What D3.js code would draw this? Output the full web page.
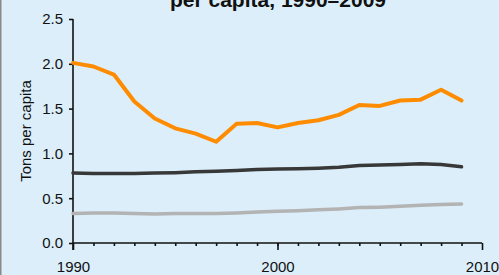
<!DOCTYPE html>
<html>
<head>
<meta charset="utf-8">
<script src="https://cdn.jsdelivr.net/npm/d3@7"></script>
<style>
  body { margin: 0; background: #dbeef9; }
  svg { display: block; }
</style>
</head>
<body>
<div class="chart"></div>
<script>
// data
var years = d3.range(1990, 2010);
var seriesOrange = [2.01, 1.97, 1.88, 1.58, 1.39, 1.28, 1.22, 1.13, 1.33, 1.34,
                    1.29, 1.34, 1.37, 1.43, 1.54, 1.53, 1.59, 1.60, 1.71, 1.59];
var seriesDark = [0.78, 0.775, 0.775, 0.775, 0.78, 0.785, 0.795, 0.80, 0.81, 0.82,
                  0.825, 0.83, 0.835, 0.845, 0.865, 0.87, 0.875, 0.885, 0.875, 0.85];
var seriesGray = [0.33, 0.335, 0.335, 0.33, 0.325, 0.33, 0.33, 0.33, 0.335, 0.345,
                  0.355, 0.36, 0.37, 0.38, 0.395, 0.40, 0.41, 0.42, 0.43, 0.435];
var yTicks = [0, 0.5, 1, 1.5, 2, 2.5];
var xTicks = [1990, 2000, 2010];
var titleText = "per capita, 1990\u20132009";
var yTitle = "Tons per capita";

var width = 499, height = 275;
var plotLeft = 73, plotRight = 482, plotTop = 19, plotBottom = 243;
var font = "'Liberation Sans', Arial, sans-serif";

var svg = d3.select(".chart").append("svg")
    .attr("width", width)
    .attr("height", height);

svg.append("rect")
    .attr("width", width).attr("height", height)
    .attr("fill", "#dbeef9");

// left frame edge
svg.append("line")
    .attr("x1", 0.5).attr("x2", 0.5)
    .attr("y1", 0).attr("y2", height)
    .attr("stroke", "#8a8a8a").attr("stroke-width", 2);

var x = d3.scaleLinear().domain([1990, 2010]).range([plotLeft, plotRight]);
var y = d3.scaleLinear().domain([0, 2.5]).range([plotBottom, plotTop]);

// title (its upper part is cut off in the original)
svg.append("text")
    .attr("x", 278).attr("y", 6.5)
    .attr("text-anchor", "middle")
    .attr("font-family", font)
    .attr("font-weight", "bold")
    .attr("font-size", "21px")
    .attr("fill", "#111")
    .text(titleText);

// y axis
var yAxis = svg.append("g")
    .attr("transform", "translate(" + plotLeft + ",0)")
    .call(d3.axisLeft(y).tickValues(yTicks).tickFormat(d3.format(".1f")).tickSize(4).tickPadding(6));
yAxis.select(".domain").attr("d", "M0," + plotTop + "V" + (plotBottom + 7));

// x axis: minor ticks every year, major every decade
var xAxisMinor = svg.append("g")
    .attr("transform", "translate(0," + plotBottom + ")")
    .call(d3.axisBottom(x).tickValues(d3.range(1991, 2010)).tickFormat("").tickSize(3));
xAxisMinor.select(".domain").remove();

var xAxis = svg.append("g")
    .attr("transform", "translate(0," + plotBottom + ")")
    .call(d3.axisBottom(x).tickValues(xTicks).tickFormat(d3.format("d")).tickSize(7).tickPadding(11));
xAxis.select(".domain").attr("d", "M" + plotLeft + ",0H" + plotRight);

svg.selectAll(".tick text")
    .attr("font-family", font)
    .attr("font-size", "15px")
    .attr("fill", "#111");
svg.selectAll(".domain, .tick line")
    .attr("stroke", "#111")
    .attr("stroke-width", 1.6);

// y title
svg.append("text")
    .attr("transform", "translate(31," + ((plotTop + plotBottom) / 2) + ") rotate(-90)")
    .attr("text-anchor", "middle")
    .attr("font-family", font)
    .attr("font-size", "15px")
    .attr("fill", "#111")
    .text(yTitle);

var line = d3.line()
    .x(function(d, i) { return x(years[i]); })
    .y(function(d) { return y(d); });

var series = [
    { values: seriesGray, color: "#b3b3b3", w: 3.5 },
    { values: seriesDark, color: "#383838", w: 3.5 },
    { values: seriesOrange, color: "#ff8c00", w: 4 }
];

svg.selectAll(".series")
    .data(series)
    .enter().append("path")
    .attr("class", "series")
    .attr("d", function(d) { return line(d.values); })
    .attr("fill", "none")
    .attr("stroke", function(d) { return d.color; })
    .attr("stroke-width", function(d) { return d.w; })
    .attr("stroke-linejoin", "round")
    .attr("stroke-linecap", "round");
</script>
</body>
</html>
